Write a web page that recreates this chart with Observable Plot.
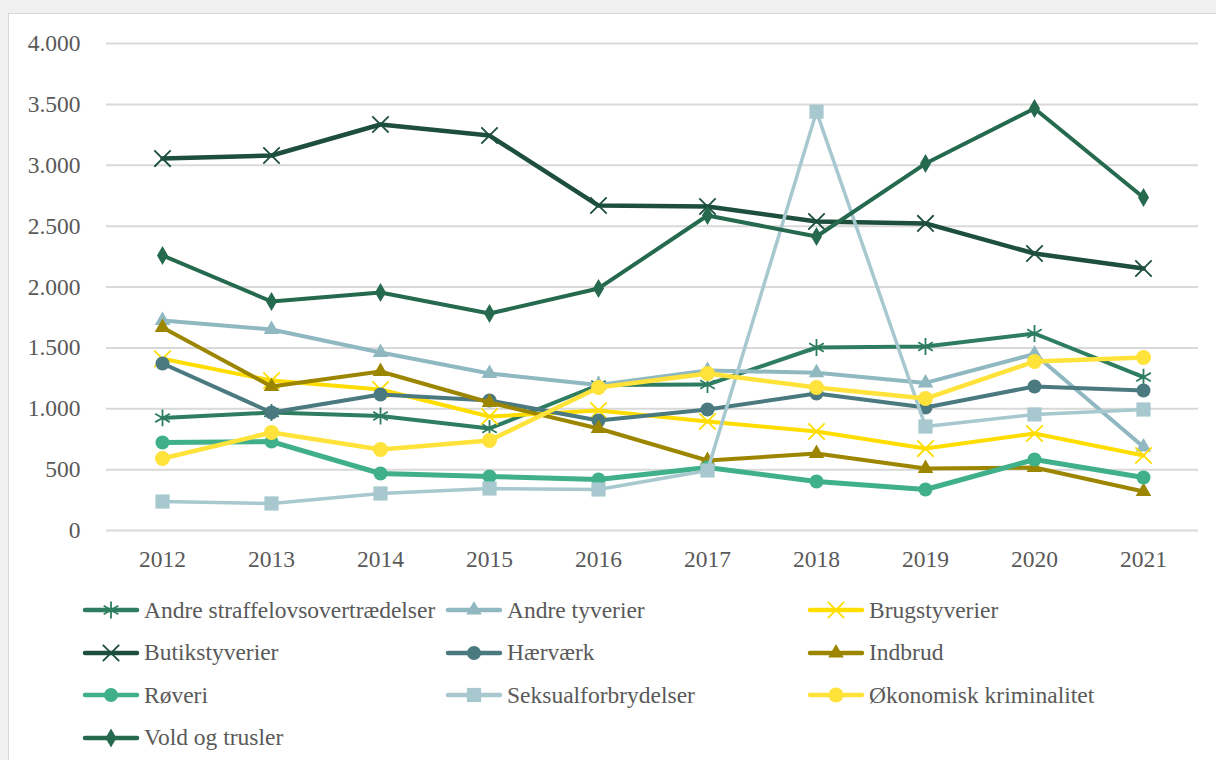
<!DOCTYPE html>
<html>
<head>
<meta charset="utf-8">
<script src="https://cdn.jsdelivr.net/npm/d3@7"></script>
<script src="https://cdn.jsdelivr.net/npm/@observablehq/plot@0.6"></script>
<style>
  html, body { margin: 0; padding: 0; background: #f0f0f0; width: 1216px; height: 760px; overflow: hidden; }
  #panel { position: absolute; left: 8px; top: 13px; width: 1230px; height: 780px; background: #fff; border: 1px solid #d9d9d9; box-sizing: border-box; }
  #chart { position: absolute; left: 0; top: 0; }
  #legend { position: absolute; left: 73px; top: 575px; display: grid; grid-template-columns: 363px 362px 362px; grid-auto-rows: 42.5px; font-family: "Liberation Serif", "Times New Roman", Times, "DejaVu Serif", serif; font-size: 23.5px; color: #595959; }
  .item { display: flex; align-items: center; white-space: nowrap; }
  .item svg { margin-right: 4px; flex: none; }
</style>
</head>
<body>
<div id="panel">
  <div id="chart"></div>
  <div id="legend"></div>
</div>
<script>
const years = ["2012", "2013", "2014", "2015", "2016", "2017", "2018", "2019", "2020", "2021"];
const seriesNames = ["Andre straffelovsovertrædelser", "Andre tyverier", "Brugstyverier", "Butikstyverier", "Hærværk", "Indbrud", "Røveri", "Seksualforbrydelser", "Økonomisk kriminalitet", "Vold og trusler"];
const andreStraffelov = [925, 969, 940, 838, 1195, 1199, 1503, 1511, 1618, 1260];
const andreTyverier = [1725, 1651, 1462, 1290, 1195, 1315, 1295, 1212, 1450, 685];
const brugstyverier = [1410, 1232, 1158, 936, 986, 895, 813, 673, 797, 616];
const butikstyverier = [3055, 3080, 3335, 3244, 2669, 2661, 2538, 2522, 2275, 2152];
const haervaerk = [1372, 969, 1117, 1068, 903, 994, 1125, 1010, 1183, 1150];
const indbrud = [1667, 1183, 1306, 1051, 838, 575, 632, 509, 517, 320];
const roeveri = [723, 730, 468, 444, 419, 517, 402, 337, 583, 435];
const seksual = [238, 222, 304, 345, 337, 493, 3440, 854, 953, 994];
const oekonomisk = [591, 805, 665, 739, 1175, 1290, 1175, 1084, 1388, 1421];
const vold = [2259, 1881, 1955, 1782, 1988, 2587, 2415, 3014, 3466, 2735];
const yTicks = [0, 500, 1000, 1500, 2000, 2500, 3000, 3500, 4000];

const seriesValues = [andreStraffelov, andreTyverier, brugstyverier, butikstyverier, haervaerk, indbrud, roeveri, seksual, oekonomisk, vold];
const colors = ["#2e7d60", "#8fb8c0", "#ffdd00", "#1d4f3c", "#4a7a80", "#9c8600", "#3fb08a", "#a6c8ce", "#ffe23a", "#256a4f"];
const symbols = ["asterisk", "triangle", "times", "times", "circle", "triangle", "circle", "square", "circle", "diamond"];
const radii = [8, 5.8, 7.5, 7.5, 7, 5.8, 7, 8, 7.5, 5.8];
const lineWidths = [4, 4, 4, 4.5, 4, 4, 5, 3.5, 4.5, 4];

const fmt = d => d3.format(",")(d).replace(/,/g, ".");
const serif = "'Liberation Serif', 'Times New Roman', Times, 'DejaVu Serif', serif";

const marks = [
  Plot.gridY(yTicks, {stroke: "#d9d9d9", strokeOpacity: 1, strokeWidth: 2}),
  Plot.axisY(yTicks, {tickSize: 0, tickPadding: 26, tickFormat: fmt, label: null}),
  Plot.axisX({tickSize: 0, tickPadding: 20, label: null})
];
seriesNames.forEach((name, i) => {
  const data = years.map((y, j) => ({year: y, value: seriesValues[i][j]}));
  const strokeSym = symbols[i] === "times" || symbols[i] === "asterisk";
  marks.push(Plot.line(data, {x: "year", y: "value", stroke: colors[i], strokeWidth: lineWidths[i], strokeLinejoin: "round", strokeLinecap: "round"}));
  marks.push(Plot.dot(data, {x: "year", y: "value", symbol: symbols[i], r: radii[i],
    fill: strokeSym ? "none" : colors[i], stroke: strokeSym ? colors[i] : "none", strokeWidth: strokeSym ? 1.8 : 0}));
});

const chart = Plot.plot({
  width: 1207,
  height: 560,
  marginLeft: 97,
  marginRight: 18,
  marginTop: 29,
  marginBottom: 44,
  style: {fontFamily: serif, fontSize: "23.5px", color: "#595959", background: "transparent"},
  x: {type: "point", domain: years, padding: 0.5},
  y: {domain: [0, 4000]},
  marks
});
document.getElementById("chart").appendChild(chart);

const symMap = {asterisk: d3.symbolAsterisk, triangle: d3.symbolTriangle, times: d3.symbolTimes, circle: d3.symbolCircle, square: d3.symbolSquare, diamond: d3.symbolDiamond};
const legend = d3.select("#legend");
seriesNames.forEach((name, i) => {
  const item = legend.append("div").attr("class", "item");
  const svg = item.append("svg").attr("width", 58).attr("height", 24);
  svg.append("line").attr("x1", 3).attr("x2", 55).attr("y1", 12).attr("y2", 12)
    .attr("stroke", colors[i]).attr("stroke-width", 4.5).attr("stroke-linecap", "round");
  const strokeSym = symbols[i] === "times" || symbols[i] === "asterisk";
  svg.append("path").attr("transform", "translate(29,12)")
    .attr("d", d3.symbol(symMap[symbols[i]], Math.PI * radii[i] * radii[i])())
    .attr("fill", strokeSym ? "none" : colors[i])
    .attr("stroke", strokeSym ? colors[i] : "none")
    .attr("stroke-width", strokeSym ? 1.8 : 0);
  item.append("span").text(name);
});
</script>
</body>
</html>
